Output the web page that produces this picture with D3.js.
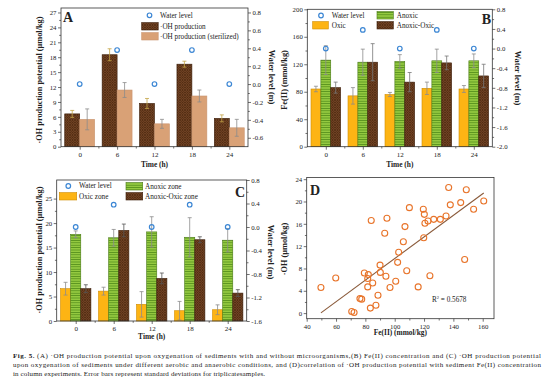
<!DOCTYPE html>
<html><head><meta charset="utf-8">
<script src="https://cdn.jsdelivr.net/npm/d3@7"></script>
<style>
body{margin:0;background:#fff}
svg{display:block}
text{font-family:"Liberation Serif","Times New Roman",serif;fill:#222}
</style>
</head><body><svg id="fig" width="554" height="388"></svg>
<script>
// ---------- data ----------
const times = [0, 6, 12, 18, 24];
const waterLevel = [0, 0.38, 0, 0.38, 0];

// Panel A
const aOH = [6.6, 18.5, 8.7, 16.6, 5.7];
const aOHErr = [0.7, 1.2, 1.0, 0.6, 0.7];
const aSter = [5.5, 11.4, 4.6, 10.2, 3.8];
const aSterErr = [2.1, 1.5, 0.9, 1.2, 1.7];

// Panel B
const bOxic = [84, 74, 76, 85, 84];
const bOxicErr = [4, 12, 3, 9, 5];
const bAnoxic = [126, 123, 124, 125, 125];
const bAnoxicErr = [21, 19, 10, 17, 10];
const bAnOx = [86, 123, 94, 122, 103];
const bAnOxErr = [8, 27, 14, 10, 17];

// Panel C
const cOxic = [6.6, 6.1, 3.4, 2.1, 2.3];
const cOxicErr = [1.3, 0.8, 2.6, 1.9, 1.0];
const cAnoxic = [17.7, 17.0, 18.2, 17.1, 16.5];
const cAnoxicErr = [0.7, 1.7, 3.1, 4.0, 2.4];
const cAnOx = [6.6, 18.5, 8.7, 16.6, 5.7];
const cAnOxErr = [0.8, 1.3, 1.1, 0.6, 0.7];

// Panel D
const dFe = [49.7, 59.8, 70.7, 72.3, 76.3, 77.5, 79.3, 82.0, 81.6, 81.6, 85.0, 83.4, 87.2, 88.6, 90.0,
  90.2, 94.0, 96.8, 100.7, 102.0, 102.7, 84.0, 94.7, 93.2, 136.8, 148.8, 110.0, 119.5, 120.2, 137.9,
  145.0, 153.8, 160.7, 107.0, 120.6, 122.7, 126.6, 131.1, 135.0, 119.8, 105.9, 108.2, 124.0, 116.0, 147.7];
const dOH = [4.6, 6.3, 0.3, 0.1, 2.6, 2.5, 7.2, 6.9, 6.2, 4.7, 5.4, 0.9, 1.4, 3.2, 8.6,
  7.3, 6.6, 4.6, 5.7, 9.1, 10.9, 16.6, 17.0, 14.3, 22.5, 22.1, 18.9, 18.6, 17.7, 19.4,
  19.8, 18.6, 20.1, 15.5, 16.1, 16.5, 16.8, 16.8, 17.4, 13.5, 12.8, 7.6, 6.7, 4.7, 9.6];
const fitSlope = 0.1934, fitIntercept = -9.56, rSquared = "0.5678";

// tick labels
const aTicksL = [0, 3, 6, 9, 12, 15, 18, 21, 24, 27];
const aTicksR = [0.8, 0.6, 0.4, 0.2, 0, -0.2, -0.4, -0.6];
const bTicksL = [0, 40, 80, 120, 160, 200];
const bTicksR = [0.8, 0.4, 0, -0.4, -0.8, -1.2, -1.6, -2.0];
const cTicksL = [0, 5, 10, 15, 20, 25];
const cTicksR = [0.8, 0.4, 0, -0.4, -0.8, -1.2, -1.6];
const dTicksX = [40, 60, 80, 100, 120, 140, 160];
const dTicksY = [0, 4, 8, 12, 16, 20, 24];

const captionLines = [
  ["Fig. 5.", " (A) \u00B7OH production potential upon oxygenation of sediments with and without microorganisms,(B) Fe(II) concentration and (C) \u00B7OH production potential"],
  ["", "upon oxygenation of sediments under different aerobic and anaerobic conditions, and (D)correlation of \u00B7OH production potential with sediment Fe(II) concentration"],
  ["", "in column experiments. Error bars represent standard deviations for triplicatesamples."]
];

// ---------- styling ----------
const C = {
  axis: "#333", water: "#3b86d4", oxic: "#FDB414", oxicStroke: "#d08c00",
  tan: "#D9A176", scatter: "#E8742A", fit: "#8a5a3a", err: "#8c8c8c", errGold: "#c4a448"
};
const svg = d3.select("#fig");
const defs = svg.append("defs");
// brown crosshatch
const pb = defs.append("pattern").attr("id", "brown").attr("patternUnits", "userSpaceOnUse")
  .attr("width", 2.5).attr("height", 2.5);
pb.append("rect").attr("width", 2.5).attr("height", 2.5).attr("fill", "#7d4c2a");
pb.append("path").attr("d", "M0,2.5 L2.5,0 M-1,1 L1,-1 M1.5,3.5 L3.5,1.5").attr("stroke", "#3a1c08").attr("stroke-width", 0.55);
pb.append("path").attr("d", "M0,0 L2.5,2.5 M-1,1.5 L1,3.5 M1.5,-1 L3.5,1").attr("stroke", "#3a1c08").attr("stroke-width", 0.55);
// green horizontal stripes
const pg = defs.append("pattern").attr("id", "green").attr("patternUnits", "userSpaceOnUse")
  .attr("width", 4).attr("height", 2.4);
pg.append("rect").attr("width", 4).attr("height", 2.4).attr("fill", "#94c940");
pg.append("line").attr("x1", 0).attr("x2", 4).attr("y1", 0.4).attr("y2", 0.4).attr("stroke", "#4e8a18").attr("stroke-width", 0.8);

const fmt1 = d => (Math.abs(d) < 1e-9 ? 0 : d).toFixed(1);
const TICKF = 6.8, LEGF = 7.2, TITLEF = 8.3, XTF = 7.4;

function styleAxis(sel, size) {
  sel.select(".domain").remove();
  sel.selectAll("line").attr("stroke", C.axis).attr("stroke-width", 0.7);
  sel.selectAll("text").attr("font-size", size || TICKF).attr("fill", "#222")
    .attr("font-family", '"Liberation Serif",serif');
}
function frame(g, l, r, t, b) {
  g.append("rect").attr("x", l).attr("y", t).attr("width", r - l).attr("height", b - t)
    .attr("fill", "none").attr("stroke", C.axis).attr("stroke-width", 0.8);
}
function vtitle(g, x, y, txt, rot) {
  g.append("text").attr("transform", `translate(${x},${y}) rotate(${rot})`)
    .attr("text-anchor", "middle").attr("font-weight", "bold").attr("font-size", TITLEF).text(txt);
}
function htitle(g, x, y, txt) {
  g.append("text").attr("x", x).attr("y", y).attr("text-anchor", "middle")
    .attr("font-weight", "bold").attr("font-size", XTF).text(txt);
}
function minorVals(ticks) {
  const s = ticks.slice().sort((a, b) => a - b), out = [];
  for (let i = 0; i < s.length - 1; i++) out.push((s[i] + s[i + 1]) / 2);
  return out;
}
function letter(g, x, y, t, anchor) {
  g.append("text").attr("x", x).attr("y", y).attr("font-size", 14).attr("font-weight", "bold")
    .attr("text-anchor", anchor || "start").attr("fill", "#111").text(t);
}

// generic bar panel
function barPanel(cfg) {
  const g = svg.append("g");
  const { l, r, t, b } = cfg.box;
  const x = d3.scaleLinear().domain([-3, 27]).range([l, r]);
  const yL = d3.scaleLinear().domain(cfg.yL).range([b, t]);
  const yR = d3.scaleLinear().domain(cfg.yR).range([b, t]);
  const step = x(6) - x(0);
  const sub = d3.scaleBand().domain(cfg.series.map((s, i) => i)).range([-step * 0.4, step * 0.4]);
  const bw = sub.bandwidth();

  cfg.series.forEach((s, si) => {
    const gg = g.append("g");
    gg.selectAll("rect").data(times).join("rect")
      .attr("x", (d, i) => x(d) + sub(si))
      .attr("y", (d, i) => yL(s.values[i]))
      .attr("width", bw)
      .attr("height", (d, i) => yL(cfg.yL[0]) - yL(s.values[i]))
      .attr("fill", s.fill).attr("stroke", s.stroke).attr("stroke-width", 0.6);
    const eg = g.append("g").attr("stroke", s.errColor).attr("stroke-width", 0.8);
    times.forEach((d, i) => {
      const cx = x(d) + sub(si) + bw / 2;
      const lo = yL(s.values[i] - s.err[i]), hi = yL(s.values[i] + s.err[i]);
      eg.append("line").attr("x1", cx).attr("x2", cx).attr("y1", lo).attr("y2", hi);
      eg.append("line").attr("x1", cx - 2).attr("x2", cx + 2).attr("y1", lo).attr("y2", lo);
      eg.append("line").attr("x1", cx - 2).attr("x2", cx + 2).attr("y1", hi).attr("y2", hi);
    });
  });
  // water level
  g.append("g").selectAll("circle").data(times).join("circle")
    .attr("cx", d => x(d)).attr("cy", (d, i) => yR(waterLevel[i])).attr("r", 2.3)
    .attr("fill", "none").attr("stroke", C.water).attr("stroke-width", 1.2);

  frame(g, l, r, t, b);
  // axes
  g.append("g").attr("transform", `translate(${l},0)`)
    .call(d3.axisLeft(yL).tickValues(cfg.ticksL).tickSize(3).tickPadding(1.5)).call(s => styleAxis(s));
  g.append("g").attr("transform", `translate(${l},0)`)
    .call(d3.axisLeft(yL).tickValues(minorVals(cfg.ticksL)).tickSize(1.8).tickFormat("")).call(s => styleAxis(s));
  g.append("g").attr("transform", `translate(${r},0)`)
    .call(d3.axisRight(yR).tickValues(cfg.ticksR).tickSize(3).tickPadding(1.5).tickFormat(fmt1)).call(s => styleAxis(s));
  g.append("g").attr("transform", `translate(${r},0)`)
    .call(d3.axisRight(yR).tickValues(minorVals(cfg.ticksR)).tickSize(1.8).tickFormat("")).call(s => styleAxis(s));
  g.append("g").attr("transform", `translate(0,${b})`)
    .call(d3.axisBottom(x).tickValues(times).tickSize(3).tickPadding(2.5).tickFormat(d3.format("d"))).call(s => styleAxis(s, 7));
  g.append("g").attr("transform", `translate(0,${b})`)
    .call(d3.axisBottom(x).tickValues([3, 9, 15, 21]).tickSize(1.8).tickFormat("")).call(s => styleAxis(s));

  vtitle(g, cfg.titleL[0], cfg.titleL[1], cfg.titleL[2], -90);
  vtitle(g, cfg.titleR[0], cfg.titleR[1], "Water level (m)", 90);
  htitle(g, (l + r) / 2, cfg.xTitleY, "Time (h)");
  letter(g, cfg.letter[0], cfg.letter[1], cfg.letter[2], cfg.letter[3]);

  // legend
  const lg = g.append("g").attr("font-size", LEGF);
  cfg.legend.forEach(it => {
    if (it.type === "circle") {
      lg.append("circle").attr("cx", it.x).attr("cy", it.y).attr("r", 2.3)
        .attr("fill", "none").attr("stroke", C.water).attr("stroke-width", 1.2);
    } else {
      lg.append("rect").attr("x", it.x).attr("y", it.y - 3.7).attr("width", it.w).attr("height", 7.4)
        .attr("fill", it.fill).attr("stroke", it.stroke).attr("stroke-width", 0.6);
    }
    lg.append("text").attr("x", it.tx).attr("y", it.y + 2.4).attr("font-size", LEGF).text(it.label);
  });
  return g;
}

const brownS = { fill: "url(#brown)", stroke: "#3a1c08" };
const greenS = { fill: "url(#green)", stroke: "#4a7a16" };
const oxicS = { fill: C.oxic, stroke: C.oxicStroke };

// Panel A
barPanel({
  box: { l: 61, r: 248, t: 8, b: 146.7 },
  yL: [0, 27.9], yR: [-0.7, 0.85], ticksL: aTicksL, ticksR: aTicksR,
  series: [
    { values: aOH, err: aOHErr, ...brownS, errColor: C.errGold },
    { values: aSter, err: aSterErr, fill: C.tan, stroke: "#c99470", errColor: C.err }
  ],
  titleL: [42, 80, "\u00B7OH production potential (\u03BCmol/kg)"],
  titleR: [269, 77],
  xTitleY: 167,
  letter: [63, 22, "A"],
  legend: [
    { type: "circle", x: 149.5, y: 15.3, tx: 160, label: "Water level" },
    { type: "rect", x: 141.7, y: 26.3, w: 16.5, tx: 160, label: "\u00B7OH production", ...brownS },
    { type: "rect", x: 141.7, y: 36.3, w: 16.5, tx: 160, label: "\u00B7OH production (sterilized)", fill: C.tan, stroke: "#c99470" }
  ]
});

// Panel B
barPanel({
  box: { l: 307.3, r: 492.3, t: 9.3, b: 146.7 },
  yL: [0, 200], yR: [-2.0, 0.8], ticksL: bTicksL, ticksR: bTicksR,
  series: [
    { values: bOxic, err: bOxicErr, ...oxicS, errColor: C.err },
    { values: bAnoxic, err: bAnoxicErr, ...greenS, errColor: C.err },
    { values: bAnOx, err: bAnOxErr, ...brownS, errColor: "#777" }
  ],
  titleL: [287, 80, "Fe(II) (mmol/kg)"],
  titleR: [515, 78],
  xTitleY: 167,
  letter: [491, 24, "B", "end"],
  legend: [
    { type: "circle", x: 321, y: 15.5, tx: 331.7, label: "Water level" },
    { type: "rect", x: 377, y: 15.3, w: 16.3, tx: 396.7, label: "Anoxic", ...greenS },
    { type: "rect", x: 312.7, y: 25.3, w: 15.6, tx: 331.7, label: "Oxic", ...oxicS },
    { type: "rect", x: 377, y: 25.3, w: 16.3, tx: 396.7, label: "Anoxic-Oxic", ...brownS }
  ]
});

// Panel C
barPanel({
  box: { l: 56.7, r: 246.7, t: 180, b: 321 },
  yL: [0, 28.8], yR: [-1.6, 0.8], ticksL: cTicksL, ticksR: cTicksR,
  series: [
    { values: cOxic, err: cOxicErr, ...oxicS, errColor: C.err },
    { values: cAnoxic, err: cAnoxicErr, ...greenS, errColor: C.err },
    { values: cAnOx, err: cAnOxErr, ...brownS, errColor: "#555" }
  ],
  titleL: [42, 250, "\u00B7OH production potential (\u03BCmol/kg)"],
  titleR: [268, 252],
  xTitleY: 339,
  letter: [245, 197, "C", "end"],
  legend: [
    { type: "circle", x: 68.3, y: 186, tx: 79, label: "Water level" },
    { type: "rect", x: 126, y: 186.3, w: 16.7, tx: 145, label: "Anoxic zone", ...greenS },
    { type: "rect", x: 59.3, y: 196.3, w: 17.4, tx: 79, label: "Oxic zone", ...oxicS },
    { type: "rect", x: 126, y: 196.3, w: 16.7, tx: 145, label: "Anoxic-Oxic zone", ...brownS }
  ]
});

// Panel D
(function () {
  const g = svg.append("g");
  const l = 306.7, r = 494, t = 177.5, b = 318.7;
  const x = d3.scaleLinear().domain([40, 167.7]).range([l, r]);
  const y = d3.scaleLinear().domain([-1, 24.3]).range([b, t]);
  const pts = dFe.map((v, i) => [v, dOH[i]]);
  const ext = d3.extent(dFe);
  g.append("path").datum(ext.map(v => [v, fitSlope * v + fitIntercept]))
    .attr("d", d3.line().x(d => x(d[0])).y(d => y(d[1])))
    .attr("stroke", C.fit).attr("stroke-width", 1.1).attr("fill", "none");
  g.append("g").selectAll("circle").data(pts).join("circle")
    .attr("cx", d => x(d[0])).attr("cy", d => y(d[1])).attr("r", 3)
    .attr("fill", "none").attr("stroke", C.scatter).attr("stroke-width", 1.1);
  frame(g, l, r, t, b);
  g.append("g").attr("transform", `translate(${l},0)`)
    .call(d3.axisLeft(y).tickValues(dTicksY).tickSize(3).tickPadding(1.5)).call(s => styleAxis(s));
  g.append("g").attr("transform", `translate(${l},0)`)
    .call(d3.axisLeft(y).tickValues(minorVals(dTicksY)).tickSize(1.8).tickFormat("")).call(s => styleAxis(s));
  g.append("g").attr("transform", `translate(0,${b})`)
    .call(d3.axisBottom(x).tickValues(dTicksX).tickSize(3).tickPadding(2)).call(s => styleAxis(s));
  g.append("g").attr("transform", `translate(0,${b})`)
    .call(d3.axisBottom(x).tickValues(minorVals(dTicksX)).tickSize(1.8).tickFormat("")).call(s => styleAxis(s));
  vtitle(g, 287, 249, "\u00B7OH (\u03BCmol/kg)", -90);
  htitle(g, (l + r) / 2, 335, "Fe(II) (mmol/kg)");
  letter(g, 310, 195, "D");
  const rt = g.append("text").attr("x", 432).attr("y", 302).attr("font-size", 7.2);
  rt.append("tspan").text("R");
  rt.append("tspan").attr("font-size", 4.5).attr("dy", -3).text("2");
  rt.append("tspan").attr("dy", 3).text(" = " + rSquared);
})();

// Caption
(function () {
  const g = svg.append("g");
  const ys = [358, 367, 376];
  const lens = [528, 528, 252];
  captionLines.forEach((ln, i) => {
    const tx = g.append("text").attr("x", 13).attr("y", ys[i]).attr("font-size", 7).attr("fill", "#333");
    if (ln[0]) tx.append("tspan").attr("font-weight", "bold").attr("fill", "#222").text(ln[0]);
    tx.append("tspan").text(ln[1]);
    tx.attr("textLength", lens[i]).attr("lengthAdjust", "spacing");
  });
})();
</script>
</body></html>
